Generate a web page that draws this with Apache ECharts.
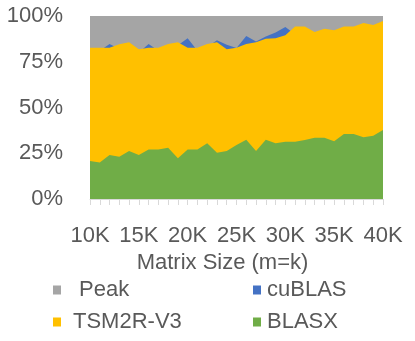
<!DOCTYPE html>
<html>
<head>
<meta charset="utf-8">
<script src="https://cdn.jsdelivr.net/npm/echarts@6/dist/echarts.min.js"></script>
<style>
  html, body { margin: 0; padding: 0; background: #fff; }
  #chart { width: 415px; height: 341px; }
</style>
</head>
<body>
<div id="chart"></div>
<script>
// matrix sizes (m=k)
var sizes = ['10K', '11K', '12K', '13K', '14K', '15K', '16K', '17K', '18K', '19K',
             '20K', '21K', '22K', '23K', '24K', '25K', '26K', '27K', '28K', '29K',
             '30K', '31K', '32K', '33K', '34K', '35K', '36K', '37K', '38K', '39K', '40K'];

// efficiency in % of peak
var peak = [100, 100, 100, 100, 100, 100, 100, 100, 100, 100,
            100, 100, 100, 100, 100, 100, 100, 100, 100, 100,
            100, 100, 100, 100, 100, 100, 100, 100, 100, 100, 100];
var cublas = [81, 81, 84.7, 82, 83, 80, 84.7, 81, 83, 84,
              87.8, 81, 83, 86.8, 84.3, 82.5, 89.1, 86, 88.8, 91,
              94, 90, 90, 88, 89, 89, 90, 90, 91, 91, 92];
var tsm2r = [82.7, 82.7, 82.7, 84.5, 85.6, 81.8, 82.7, 82.7, 84.7, 85.6,
             82.7, 82.7, 84.7, 85.6, 81.8, 82.7, 84.7, 85.6, 87.6, 87.8,
             89.5, 94.2, 94.2, 91.3, 93.1, 92.2, 94.2, 94.2, 96.2, 95.1, 97.3];
var blasx = [20.8, 19.9, 24.0, 23.1, 26.2, 24.0, 27.1, 27.1, 28.0, 22.2,
             27.1, 27.1, 30.4, 25.3, 26.2, 29.5, 32.4, 26.2, 32.4, 30.4,
             31.3, 31.3, 32.2, 33.5, 33.5, 31.5, 35.5, 35.5, 33.7, 34.6, 37.7];

var txt = '#595959';
var font = 'Liberation Sans';

function area(name, data, color) {
    return {
        name: name,
        type: 'line',
        data: data,
        symbol: 'none',
        lineStyle: { width: 0, opacity: 0 },
        areaStyle: { color: color, opacity: 1 },
        itemStyle: { color: color },
        animation: false
    };
}

var chart = echarts.init(document.getElementById('chart'));

chart.setOption({
    animation: false,
    textStyle: { fontFamily: font },
    grid: { left: 90, right: 32, top: 16, bottom: 142 },
    legend: [
        {
            data: ['Peak', 'TSM2R-V3'],
            orient: 'vertical',
            left: 48, top: 274,
            itemWidth: 8, itemHeight: 9, itemGap: 10,
            icon: 'rect',
            formatter: function (n) { return n == 'Peak' ? ' Peak' : n; },
            textStyle: { color: txt, fontSize: 22, fontFamily: font, padding: [0, 0, 0, 7] }
        },
        {
            data: ['cuBLAS', 'BLASX'],
            orient: 'vertical',
            left: 248, top: 274,
            itemWidth: 8, itemHeight: 9, itemGap: 10,
            icon: 'rect',
            textStyle: { color: txt, fontSize: 22, fontFamily: font, padding: [0, 0, 0, 1] }
        }
    ],
    xAxis: {
        type: 'category',
        data: sizes,
        boundaryGap: false,
        name: 'Matrix Size (m=k)',
        nameLocation: 'middle',
        nameGap: 53,
        nameTextStyle: { color: txt, fontSize: 22, fontFamily: font, padding: [0, 28, 0, 0] },
        axisLine: { lineStyle: { color: '#D9D9D9', width: 1 } },
        axisTick: { show: true, interval: 0, length: 6, lineStyle: { color: '#D9D9D9' } },
        axisLabel: { interval: 4, color: txt, fontSize: 22, fontFamily: font, margin: 26 }
    },
    yAxis: {
        type: 'value',
        min: 0, max: 100, interval: 25,
        axisLine: { show: false },
        axisTick: { show: false },
        splitLine: { lineStyle: { color: '#D9D9D9' } },
        axisLabel: { formatter: '{value}%', color: txt, fontSize: 22, fontFamily: font, margin: 27 }
    },
    series: [
        area('Peak', peak, '#A5A5A5'),
        area('cuBLAS', cublas, '#4472C4'),
        area('TSM2R-V3', tsm2r, '#FFC000'),
        area('BLASX', blasx, '#70AD47')
    ]
});
</script>
</body>
</html>
